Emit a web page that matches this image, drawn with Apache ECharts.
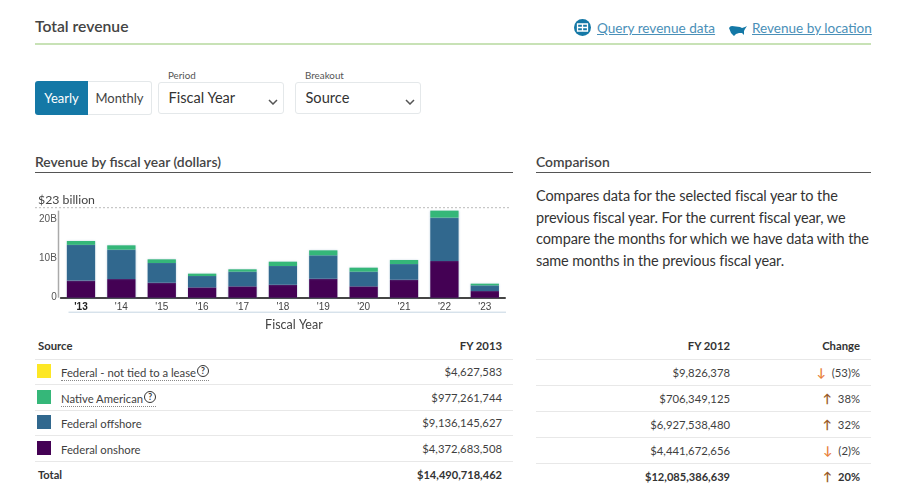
<!DOCTYPE html>
<html>
<head>
<meta charset="utf-8">
<script src="https://cdn.jsdelivr.net/npm/echarts@6/dist/echarts.min.js"></script>
<style>
html,body{margin:0;padding:0;background:#fff;}
body{width:914px;height:500px;position:relative;overflow:hidden;font-family:Lato,sans-serif;color:#3f3f3f;}
.abs{position:absolute;white-space:nowrap;}
a{color:#4a90b8;text-decoration:underline;}
.sel{position:absolute;top:82px;height:30px;line-height:29px;border:1px solid #e4e8ea;border-radius:3px;box-sizing:content-box;font-size:14.6px;color:#333;text-indent:9.5px;}
.sel svg{position:absolute;top:16px;right:5px;}
.lab{position:absolute;top:69px;font-size:9.8px;color:#555;}
table{position:absolute;border-collapse:collapse;table-layout:fixed;font-size:11.3px;}
td,th{padding:0;border-bottom:1px solid #e8e8e8;text-align:right;white-space:nowrap;}
th{font-weight:700;color:#333;font-size:11.3px;}
tr:last-child td{border-bottom:none;font-weight:700;color:#333;font-size:11.1px;}
td.name,th.name{text-align:left;}
.sw{display:inline-block;width:14px;height:14px;margin:0 10px 0 2px;vertical-align:-1px;}
.tip{border-bottom:1px dotted #888;padding-bottom:1px;}
.q{display:inline-block;width:10px;height:10px;border:1px solid #333;border-radius:50%;font-size:8.5px;line-height:10px;text-align:center;vertical-align:3px;color:#333;font-weight:700;margin-left:1px;}
.up{color:#9a5b28;font-size:12px;font-weight:700;margin-right:6px;}
.down{color:#e8813a;font-size:12px;font-weight:700;margin-right:6px;}
</style>
</head>
<body>
<div class="abs" style="left:35px;top:17px;font-size:15.7px;font-weight:600;color:#444;">Total revenue</div>
<div class="abs" style="left:35px;top:43px;width:836px;height:1.5px;background:#c8e2b6;"></div>

<svg class="abs" style="left:574px;top:19px;" width="17" height="17" viewBox="0 0 17 17">
  <circle cx="8.5" cy="8.5" r="8.5" fill="#1478a6"/>
  <path d="M3.5 5h10v7h-10z M8.5 5v7 M3.5 8.5h10" fill="none" stroke="#fff" stroke-width="1.3"/>
</svg>
<a class="abs" style="left:597px;top:20px;font-size:13.6px;">Query revenue data</a>
<svg class="abs" style="left:729px;top:25px;" width="18" height="11" viewBox="0 0 18 11">
  <path d="M0 3 Q1 1 3 1 L11 2 L13 3 L16 2 L18 1 L16 4 L15 6 L15 10 L13 8 L10 8 L7 9 L5 11 L2 8 Z" fill="#1478a6"/>
</svg>
<a class="abs" style="left:752px;top:20px;font-size:13.55px;">Revenue by location</a>

<div class="abs" style="left:35px;top:81px;width:53px;height:34px;line-height:34px;background:#1478a6;color:#fff;font-size:13px;text-align:center;border-radius:3px 0 0 3px;">Yearly</div>
<div class="abs" style="left:88px;top:81px;width:63px;height:32px;line-height:32px;border:1px solid #e4e8ea;border-left:none;color:#444;font-size:13px;text-align:center;border-radius:0 3px 3px 0;">Monthly</div>
<div class="lab" style="left:168px;">Period</div>
<div class="sel" style="left:158px;width:124px;">Fiscal Year<svg width="10" height="6" viewBox="0 0 10 6"><path d="M1 1l4 4 4-4" fill="none" stroke="#555" stroke-width="1.5"/></svg></div>
<div class="lab" style="left:305px;">Breakout</div>
<div class="sel" style="left:295px;width:124px;">Source<svg width="10" height="6" viewBox="0 0 10 6"><path d="M1 1l4 4 4-4" fill="none" stroke="#555" stroke-width="1.5"/></svg></div>

<div class="abs" style="left:35px;top:153px;font-size:13.9px;font-weight:600;color:#444;">Revenue by fiscal year (dollars)</div>
<div class="abs" style="left:35px;top:172px;width:478px;height:1px;background:#555;"></div>
<div class="abs" style="left:536px;top:153px;font-size:13.9px;font-weight:600;color:#444;">Comparison</div>
<div class="abs" style="left:536px;top:172px;width:335px;height:1px;background:#555;"></div>
<div class="abs" style="left:536px;top:185px;font-size:14.5px;letter-spacing:-0.1px;line-height:21.7px;color:#333;">Compares data for the selected fiscal year to the<br>previous fiscal year. For the current fiscal year, we<br>compare the months for which we have data with the<br>same months in the previous fiscal year.</div>

<div id="chart" class="abs" style="left:0;top:180px;width:530px;height:150px;"></div>
<table id="left" style="left:35px;top:333px;width:478px;"></table>
<table id="right" style="left:536px;top:333px;width:335px;"></table>

<script>
var years = ["'13","'14","'15","'16","'17","'18","'19","'20","'21","'22","'23"];
// values in billions
var onshore  = [4.37,4.77,3.84,2.64,2.90,3.32,4.86,2.90,4.60,9.38,1.70];
var offshore = [9.14,7.51,5.03,2.90,3.75,4.78,5.97,3.75,4.00,11.08,1.45];
var native_  = [0.98,1.10,0.93,0.60,0.60,1.10,1.27,1.02,1.03,1.79,0.43];
var notTied  = [0.005,0.005,0.005,0.005,0.005,0.005,0.005,0.005,0.005,0.005,0.005];
var yTicks = [0,10,20];
var yMax = 23;
var peak = 22.25;

var names = ['Federal - not tied to a lease','Native American','Federal offshore','Federal onshore'];
var colors = ['#fde725','#35b779','#31688e','#440154'];
var fy13 = ['$4,627,583','$977,261,744','$9,136,145,627','$4,372,683,508','$14,490,718,462'];
var fy12 = ['$9,826,378','$706,349,125','$6,927,538,480','$4,441,672,656','$12,085,386,639'];
var change = ['(53)%','38%','32%','(2)%','20%'];
var changeDir = ['down','up','up','down','up'];

var chart = echarts.init(document.getElementById('chart'));

function barSeries(name, data, color) {
  return {
    name: name, type: 'bar', stack: 'total', data: data, barWidth: '70%',
    itemStyle: { color: color, borderWidth: 0, shadowBlur: 2, shadowColor: 'rgba(120,160,190,.45)' }
  };
}

chart.setOption({
  animation: false,
  grid: { left: 60.8, top: 27.7, width: 444.2, height: 90, outerBoundsMode: 'none' },
  xAxis: {
    type: 'category', data: years,
    axisTick: { show: false },
    axisLine: { lineStyle: { color: '#444', width: 2 } },
    axisLabel: {
      margin: 5, fontSize: 10, fontFamily: 'Liberation Sans', color: '#444',
      formatter: function (v, i) { return i === 0 ? '{b|' + v + '}' : v; },
      rich: { b: { fontWeight: 'bold', fontSize: 10, fontFamily: 'Liberation Sans', color: '#222' } }
    },
    name: 'Fiscal Year', nameLocation: 'middle', nameGap: 21,
    nameTextStyle: { fontFamily: 'Lato', fontSize: 12.5, color: '#444', padding: [0, 0, 0, 22] }
  },
  yAxis: {
    type: 'value', min: 0, max: yMax, interval: 10,
    axisLine: { show: false }, axisTick: { show: false }, splitLine: { show: false },
    axisLabel: {
      margin: 4, fontSize: 10, fontFamily: 'Liberation Sans', color: '#555',
      customValues: yTicks,
      formatter: function (v) { return v === 0 ? '0' : v + 'B'; }
    }
  },
  series: [
    barSeries('Federal onshore', onshore, colors[3]),
    barSeries('Federal offshore', offshore, colors[2]),
    barSeries('Native American', native_, colors[1]),
    barSeries('Federal - not tied to a lease', notTied, colors[0])
  ]
});

// dotted top line, its label and the y axis rule follow the value scale
var yTop = chart.convertToPixel({ yAxisIndex: 0 }, yMax);
var yPeak = chart.convertToPixel({ yAxisIndex: 0 }, peak);
var yZero = chart.convertToPixel({ yAxisIndex: 0 }, 0);
chart.setOption({
  graphic: [
    { type: 'line', shape: { x1: 35, y1: yTop, x2: 511, y2: yTop }, style: { stroke: '#bbb', lineWidth: 1, lineDash: [2, 2] } },
    { type: 'text', x: 38, y: yTop - 14, style: { text: '$23 billion', font: '12.3px Lato', fill: '#444' } },
    { type: 'line', shape: { x1: 58.5, y1: yPeak, x2: 58.5, y2: yZero }, style: { stroke: '#aaa', lineWidth: 1.5 } },
    { type: 'line', shape: { x1: 68.5, y1: yZero + 14.5, x2: 506, y2: yZero + 14.5 }, style: { stroke: '#c5d6e3', lineWidth: 1 } }
  ]
});

var rowsL = '<colgroup><col style="width:300px"><col style="width:167px"><col style="width:11px"></colgroup>' +
  '<tr style="height:26px"><th class="name" style="padding-left:3px">Source</th><th>FY 2013</th><th></th></tr>';
names.forEach(function (n, i) {
  var label = i < 2 ? '<span class="tip">' + n + '<span class="q">?</span></span>' : n;
  rowsL += '<tr style="height:25.5px"><td class="name"><span class="sw" style="background:' + colors[i] + '"></span>' + label +
    '</td><td>' + fy13[i] + '</td><td></td></tr>';
});
rowsL += '<tr style="height:25.5px"><td class="name" style="padding-left:3px">Total</td><td>' + fy13[4] + '</td><td></td></tr>';
document.getElementById('left').innerHTML = rowsL;

var rowsR = '<colgroup><col style="width:194px"><col style="width:130px"><col style="width:11px"></colgroup>' +
  '<tr style="height:26px"><th>FY 2012</th><th>Change</th><th></th></tr>';
fy12.forEach(function (v, i) {
  var arrow = changeDir[i] === 'up' ? '<span class="up">↑</span>' : '<span class="down">↓</span>';
  rowsR += '<tr style="height:26px"><td>' + v + '</td><td>' + arrow + change[i] + '</td><td></td></tr>';
});
document.getElementById('right').innerHTML = rowsR;
</script>
</body>
</html>
